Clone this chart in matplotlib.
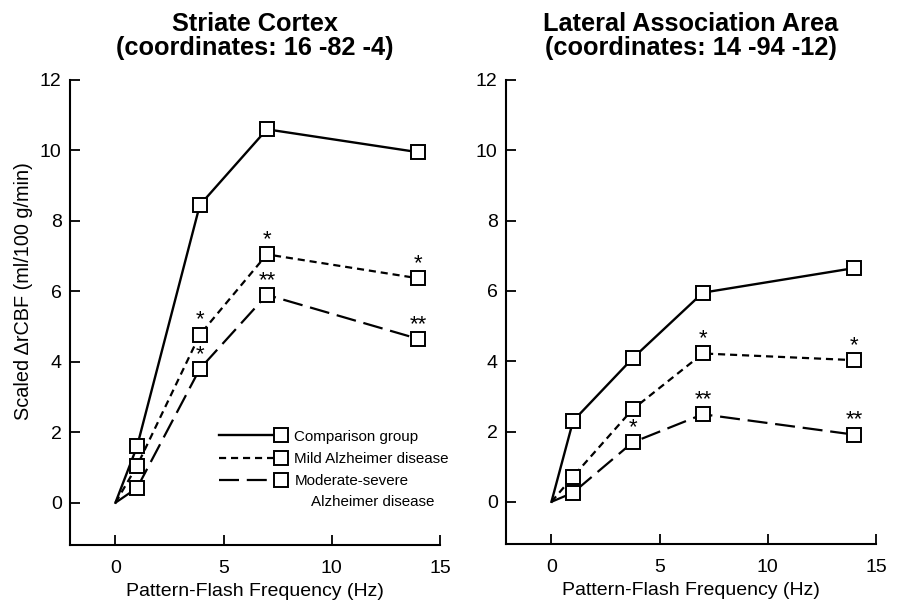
import numpy as np
import matplotlib
matplotlib.use("Agg")
import matplotlib.pyplot as plt
from matplotlib.lines import Line2D
from matplotlib.legend_handler import HandlerBase

plt.rcParams['font.family'] = ['Liberation Sans', 'DejaVu Sans']

# Pattern-flash frequency (Hz)
freq_striate = [0, 1, 3.9, 7, 14]
freq_lateral = [0, 1, 3.75, 7, 14]

# Scaled delta rCBF, striate cortex
striate_comp = [0, 1.6, 8.45, 10.6, 9.95]
striate_mild = [0, 1.05, 4.77, 7.05, 6.37]
striate_mod = [0, 0.42, 3.8, 5.9, 4.65]

# Scaled delta rCBF, lateral association area
lateral_comp = [0, 2.3, 4.08, 5.95, 6.65]
lateral_mild = [0, 0.72, 2.63, 4.22, 4.03]
lateral_mod = [0, 0.26, 1.69, 2.49, 1.91]

# significance marks per point
striate_mild_sig = ['', '', '*', '*', '*']
striate_mod_sig = ['', '', '*', '**', '**']
lateral_mild_sig = ['', '', '', '*', '*']
lateral_mod_sig = ['', '', '*', '**', '**']

group_labels = ['Comparison group', 'Mild Alzheimer disease', 'Moderate-severe']
panel_titles = ['Striate Cortex\n(coordinates: 16 -82 -4)',
                'Lateral Association Area\n(coordinates: 14 -94 -12)']

styles = [dict(linestyle='-', lw=1.7),
          dict(linestyle=(0, (3.2, 2.2)), lw=1.6),
          dict(linestyle=(0, (9, 3.5)), lw=1.6)]


class EndMarker(HandlerBase):
    """legend sample: line with the square at its right end"""
    def create_artists(self, legend, orig, xd, yd, w, h, fs, trans):
        y = (h - yd) / 2
        ln = Line2D([-xd, -xd + w - 5], [y, y])
        ln.update_from(orig)
        ln.set_marker('None')
        mk = Line2D([-xd + w], [y], linestyle='None', marker='s',
                    markersize=orig.get_markersize(),
                    markerfacecolor='white', markeredgecolor='black',
                    markeredgewidth=orig.get_markeredgewidth())
        ln.set_transform(trans)
        mk.set_transform(trans)
        return [ln, mk]


fig = plt.figure(figsize=(8.99, 6.0), dpi=100)
ax1 = fig.add_axes([70 / 899, 55 / 600, 370 / 899, 465 / 600])
ax2 = fig.add_axes([506 / 899, 56 / 600, 370 / 899, 464 / 600])

panels = [
    (ax1, freq_striate, [striate_comp, striate_mild, striate_mod],
     [None, striate_mild_sig, striate_mod_sig]),
    (ax2, freq_lateral, [lateral_comp, lateral_mild, lateral_mod],
     [None, lateral_mild_sig, lateral_mod_sig]),
]

for i, (ax, xs, series, sigs) in enumerate(panels):
    handles = []
    for ys, st, sig in zip(series, styles, sigs):
        h, = ax.plot(xs, ys, color='black', marker='s', markersize=10,
                     markerfacecolor='white', markeredgecolor='black',
                     markeredgewidth=1.4, markevery=list(range(1, len(xs))),
                     **st)
        handles.append(h)
        if sig:
            for x, y, s in zip(xs, ys, sig):
                if s:
                    ax.annotate(s, (x, y), xytext=(0, 3), textcoords='offset points',
                                ha='center', va='bottom', fontsize=16)
    ax.set_xlim(-2.1, 15)
    ax.set_ylim(-1.2, 12)
    ax.set_xticks([0, 5, 10, 15])
    ax.set_yticks([0, 2, 4, 6, 8, 10, 12])
    ax.spines['top'].set_visible(False)
    ax.spines['right'].set_visible(False)
    ax.spines['left'].set_bounds(-1.2, 12)
    for sp in ('left', 'bottom'):
        ax.spines[sp].set_linewidth(1.5)
    ax.tick_params(direction='in', length=7, width=1.3, labelsize=14, pad=6)
    ax.tick_params(axis='x', pad=11)
    ax.set_xlabel('Pattern-Flash Frequency (Hz)', fontsize=14, labelpad=4)
    ax.set_title(panel_titles[i], fontsize=18.3, fontweight='bold', pad=18,
                 linespacing=1.0)

    if i == 0:
        ax.set_ylabel('Scaled \u0394rCBF (ml/100 g/min)', fontsize=14.3)
        ax.yaxis.set_label_coords(-0.1, 0.546)
        ax.legend(handles, group_labels, loc='upper left',
                  bbox_to_anchor=(0.402, 0.248), frameon=False, fontsize=10.9,
                  handlelength=4.1, handletextpad=0.9, labelspacing=0.55,
                  borderpad=0, borderaxespad=0,
                  handler_map={Line2D: EndMarker()})
        ax.text(0.651, 0.083, 'Alzheimer disease', transform=ax.transAxes,
                fontsize=10.9, ha='left', va='baseline')

fig.savefig('out.png', dpi=100)
